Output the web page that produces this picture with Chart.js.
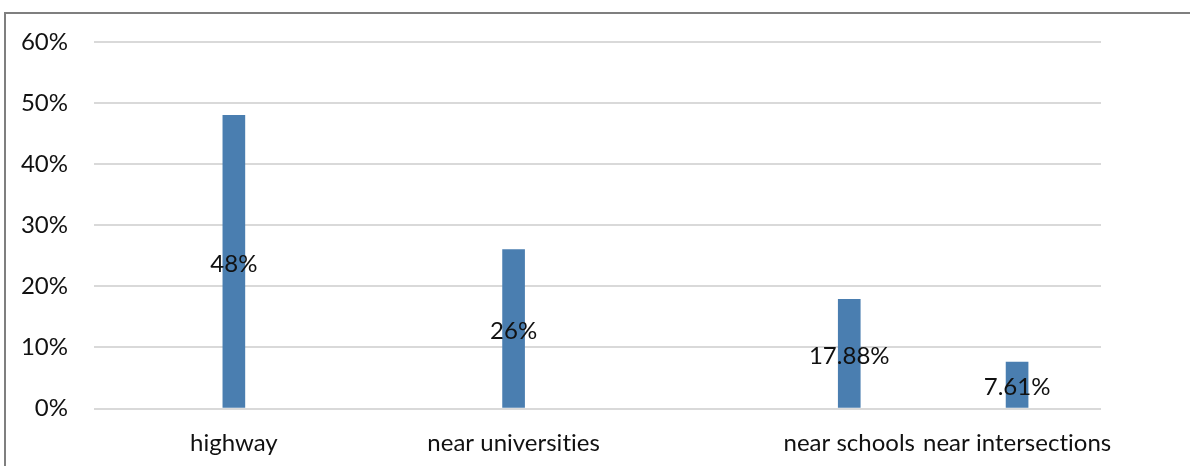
<!DOCTYPE html>
<html>
<head>
<meta charset="utf-8">
<script src="https://cdn.jsdelivr.net/npm/chart.js@4/dist/chart.umd.min.js"></script>
<style>
  html, body { margin: 0; padding: 0; background: #fff; }
  #frame {
    position: absolute; left: 4px; top: 12px; width: 1200px; height: 470px;
    border-left: 2px solid #7f7f7f; border-top: 2px solid #7f7f7f;
  }
  #wrap { position: absolute; left: 0; top: 0; width: 1190px; height: 466px; }
</style>
</head>
<body>
<div id="frame"></div>
<div id="wrap"><canvas id="myChart"></canvas></div>
<script>
const categories = ['highway', 'near universities', 'near schools', 'near intersections']
const shares = [48, 26, 17.88, 7.61]
const yTicks = [0, 10, 20, 30, 40, 50, 60]

const barColor = '#4a7eb0'
const gridColor = '#d9d9d9'
const textColor = '#111'
const fontFamily = 'Lato, "Open Sans", sans-serif'

// the axis has 18 slots; the four bars sit in some of them, the rest stay empty
const slotCount = 18
const slotOf = [2, 7, 13, 16]

var labels = []
var values = []
for (var i = 0; i < slotCount; i++) {
  labels.push('')
  values.push(null)
}
for (var j = 0; j < categories.length; j++) {
  labels[slotOf[j]] = categories[j]
  values[slotOf[j]] = shares[j]
}

// no "ti" ligatures in the axis text
const plainText = {
  id: 'plainText',
  beforeDraw(chart) {
    chart.ctx.textRendering = 'optimizeSpeed'
    chart.ctx.letterSpacing = '0.01px'
  }
}

// value labels drawn in the middle of each bar
const centerLabels = {
  id: 'centerLabels',
  afterDatasetsDraw(chart) {
    var ctx = chart.ctx
    var meta = chart.getDatasetMeta(0)
    ctx.save()
    ctx.font = '24px ' + fontFamily
    ctx.fillStyle = textColor
    ctx.textAlign = 'center'
    ctx.textBaseline = 'middle'
    meta.data.forEach(function(bar, i) {
      var v = values[i]
      if (v === null) return
      ctx.fillText(v + '%', bar.x, (bar.y + bar.base) / 2 + 3)
    })
    ctx.restore()
  }
}

var ctx = document.getElementById('myChart')
var chart = new Chart(ctx, {
  type: 'bar',
  data: {
    labels: labels,
    datasets: [{
      data: values,
      backgroundColor: barColor,
      barThickness: 22,
      skipNull: true
    }]
  },
  options: {
    responsive: true,
    maintainAspectRatio: false,
    animation: false,
    layout: { padding: { left: 0, right: 89, top: 42, bottom: 0 } },
    plugins: {
      legend: { display: false },
      tooltip: { enabled: false }
    },
    scales: {
      x: {
        grid: { display: false },
        border: { display: false },
        ticks: {
          autoSkip: false,
          maxRotation: 0,
          minRotation: 0,
          padding: 12,
          color: textColor,
          font: { family: fontFamily, size: 24 }
        },
        afterFit: function(scale) { scale.height = 466 - 42 - 366.5 }
      },
      y: {
        min: 0,
        max: 60,
        afterBuildTicks: function(scale) {
          scale.ticks = yTicks.map(function(v) { return { value: v } })
        },
        grid: { color: gridColor, lineWidth: 2, drawTicks: false },
        border: { display: false },
        ticks: {
          padding: 26,
          color: textColor,
          font: { family: fontFamily, size: 24 },
          callback: function(v) { return v + '%' }
        },
        afterFit: function(scale) { scale.width = 94 }
      }
    }
  },
  plugins: [plainText, centerLabels]
})
</script>
</body>
</html>
